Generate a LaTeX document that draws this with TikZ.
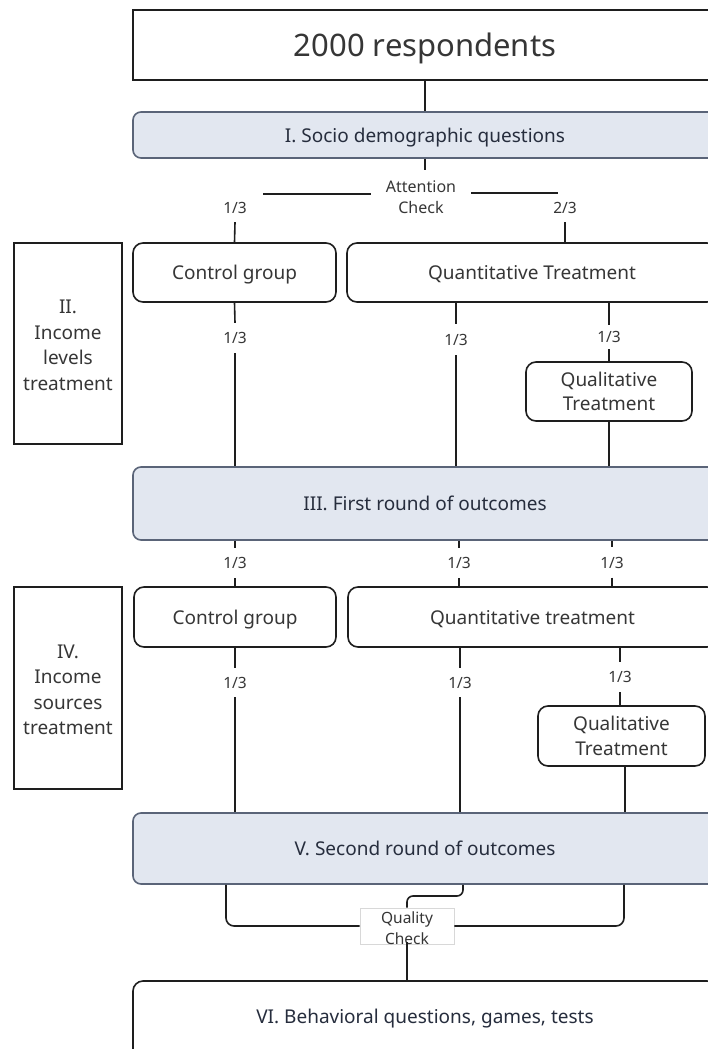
\documentclass[tikz,border=0pt]{standalone}
\usepackage{fontspec}
\setmainfont{Noto Sans}
\definecolor{boxfill}{HTML}{E2E7F0}
\definecolor{boxedge}{HTML}{5A6478}
\definecolor{txtgray}{HTML}{363636}
\definecolor{txtnavy}{HTML}{262D3D}
\definecolor{lineblk}{HTML}{1E1E1E}
\definecolor{qcedge}{HTML}{D8D8D8}
\begin{document}
\begin{tikzpicture}[x=1pt,y=-1pt,
  conn/.style={draw=lineblk,line width=1.6pt},
  plainbox/.style={draw=lineblk,line width=1.6pt,fill=white,inner sep=0pt,align=center},
  roundbox/.style={plainbox,rounded corners=10pt},
  stagebox/.style={draw=boxedge,line width=1.6pt,fill=boxfill,rounded corners=8pt,inner sep=0pt,align=center,
     font=\fontsize{19}{24}\selectfont,text=txtnavy,text depth=0pt},
  sidebox/.style={plainbox,minimum width=108pt,font=\fontsize{19}{25.5}\selectfont,text=txtgray},
  sidetxt/.style={inner sep=0pt,align=center,font=\fontsize{19}{25.5}\selectfont,text=txtgray},
  frac/.style={inner sep=0pt,font=\fontsize{15.5}{19}\selectfont,text=txtgray,text depth=0pt},
  grptxt/.style={font=\fontsize{19}{24}\selectfont,text=txtgray},
  onetxt/.style={grptxt,text depth=0pt},
]
\useasboundingbox (0,0) rectangle (708,1049);
\clip (0,0) rectangle (708,1049);
\fill[white] (0,0) rectangle (708,1049);

% top
\node[plainbox,minimum width=584pt,minimum height=70pt,font=\fontsize{31}{36}\selectfont,text=txtgray,text depth=0pt] (top) at (425,45) {2000 respondents};
\node[stagebox,minimum width=584pt,minimum height=46pt] (sdq) at (425,135) {I. Socio demographic questions};
\draw[conn] (top.south -| sdq.north) -- (sdq.north);

% attention check
\node[inner sep=0pt,minimum width=100pt,minimum height=54pt,align=center,
      font=\fontsize{16}{21}\selectfont,text=txtgray] (att) at (421,197) {Attention\\Check};
\coordinate (attl) at (263,194);
\coordinate (attr) at (558,193);
\draw[conn] (sdq.south) -- (sdq.south |- att.north);
\draw[conn] (attl -| att.west) -- (attl);
\draw[conn] (attr -| att.east) -- (attr);
\node[frac,minimum height=28pt] (f1) at (235,208) {1/3};
\node[frac,minimum height=28pt] (f2) at (565,208) {2/3};

% row II
\node[sidebox,minimum height=201pt] (s2) at (68,343.5) {};
\node[sidetxt] (s2txt) at (68,345.5) {II.\\Income\\levels\\treatment};
\node[roundbox,onetxt,minimum width=203pt,minimum height=59pt] (c1) at (234.5,272.5) {Control group};
\node[roundbox,onetxt,minimum width=370pt,minimum height=59pt] (q1) at (532,272.5) {Quantitative Treatment};
\draw[conn] (f1.south) -- (c1.north);
\draw[conn] (f2.south) -- (f2.south |- q1.north);

\node[frac,minimum height=30pt] (f3) at (235,338) {1/3};
\node[frac,minimum height=31pt] (f4) at (456,339.5) {1/3};
\node[frac,minimum height=24pt] (f5) at (609,337) {1/3};
\node[roundbox,grptxt,minimum width=166pt,minimum height=59pt] (ql1) at (609,391.5) {Qualitative\\Treatment};

\node[stagebox,minimum width=584pt,minimum height=73pt] (fr) at (425,503.5) {III. First round of outcomes};

\draw[conn] (c1.south) -- (f3.north);
\draw[conn] (f3.south) -- (f3.south |- fr.north);
\draw[conn] (q1.south -| f4) -- (f4.north);
\draw[conn] (f4.south) -- (f4.south |- fr.north);
\draw[conn] (q1.south -| f5) -- (f5.north);
\draw[conn] (f5.south) -- (ql1.north);
\draw[conn] (ql1.south) -- (ql1.south |- fr.north);

% row IV
\node[frac,minimum height=30pt] (f6) at (235,563) {1/3};
\node[frac,minimum height=30pt] (f7) at (459,563) {1/3};
\node[frac,minimum height=30pt] (f8) at (612,562.5) {1/3};

\node[sidebox,minimum height=202pt] (s4) at (68,688) {};
\node[sidetxt] (s4txt) at (68,690) {IV.\\Income\\sources\\treatment};
\node[roundbox,onetxt,minimum width=202pt,minimum height=60pt] (c2) at (235,617) {Control group};
\node[roundbox,onetxt,minimum width=369pt,minimum height=60pt] (q2) at (532.5,617) {Quantitative treatment};

\draw[conn] (fr.south -| f6) -- (f6.north);
\draw[conn] (f6.south) -- (c2.north);
\draw[conn] (fr.south -| f7) -- (f7.north);
\draw[conn] (f7.south) -- (f7.south |- q2.north);
\draw[conn] (fr.south -| f8) -- (f8.north);
\draw[conn] (f8.south) -- (f8.south |- q2.north);

\node[frac,minimum height=29pt] (f9) at (235,682.5) {1/3};
\node[frac,minimum height=29pt] (f10) at (460,682.5) {1/3};
\node[frac,minimum height=30pt] (f11) at (620,677) {1/3};
\node[roundbox,grptxt,minimum width=167pt,minimum height=60pt,font=\fontsize{19}{25}\selectfont] (ql2) at (621.5,736) {Qualitative\\Treatment};

\node[stagebox,minimum width=584pt,minimum height=71pt] (sr) at (425,848.5) {V. Second round of outcomes};

\draw[conn] (c2.south) -- (f9.north);
\draw[conn] (f9.south) -- (f9.south |- sr.north);
\draw[conn] (q2.south -| f10) -- (f10.north);
\draw[conn] (f10.south) -- (f10.south |- sr.north);
\draw[conn] (q2.south -| f11) -- (f11.north);
\draw[conn] (f11.south) -- (f11.south |- ql2.north);
\draw[conn] ([xshift=3.5pt]ql2.south) -- ([xshift=3.5pt]ql2.south |- sr.north);

% quality check
\node[draw=qcedge,line width=0.6pt,fill=white,inner sep=0pt,minimum width=94pt,minimum height=36pt] (qc) at (407,926) {};
\node[inner sep=0pt,align=center,font=\fontsize{15.5}{21}\selectfont,text=txtgray] (qctxt) at (407,928.5) {Quality\\Check};
\coordinate (ql) at (226,926);
\coordinate (qr) at (624,926);
\coordinate (qm) at (463,896);
\draw[conn,rounded corners=8pt] (sr.south -| ql) |- (qc.west);
\draw[conn,rounded corners=8pt] (sr.south -| qr) |- (qc.east);
\draw[conn,rounded corners=6pt] (sr.south -| qm) -- (qm) -- (qm -| qc.north) -- (qc.north);

% VI
\node[roundbox,minimum width=584pt,minimum height=140pt] (beh) at (425,1051) {};
\node[onetxt,text=txtnavy] (behtxt) at (425,1016) {VI. Behavioral questions, games, tests};
\draw[conn] ([yshift=2pt]qc.south) -- (qc.south |- beh.north);
\end{tikzpicture}
\end{document}
